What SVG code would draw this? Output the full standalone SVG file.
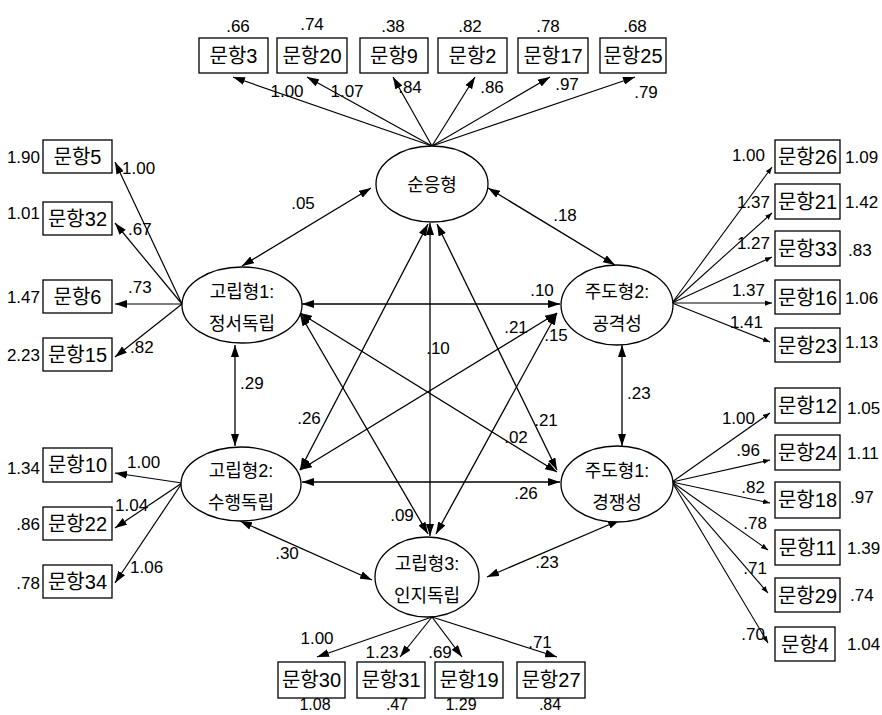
<svg xmlns="http://www.w3.org/2000/svg" width="882" height="715" viewBox="0 0 882 715">
<defs>
<marker id="ah" viewBox="0 0 12 8" refX="12" refY="4" markerWidth="12" markerHeight="8" markerUnits="userSpaceOnUse" orient="auto-start-reverse"><path d="M0,0 L12,4 L0,8 z" fill="#000"/></marker>
<marker id="as" viewBox="0 0 8 6" refX="8" refY="3" markerWidth="7" markerHeight="6" markerUnits="userSpaceOnUse" orient="auto"><path d="M0,0 L8,3 L0,6 z" fill="#000"/></marker>
</defs>
<style>
.bx{fill:#fff;stroke:#000;stroke-width:1.3}
.el{fill:#fff;stroke:#000;stroke-width:1.3}
.bt{font-family:"Liberation Sans","Noto Sans CJK KR",sans-serif;font-size:20px;text-anchor:middle}
.et{font-family:"Liberation Sans","Noto Sans CJK KR",sans-serif;font-size:18px;text-anchor:middle}
.n{font-family:"Liberation Sans Narrow","Liberation Sans",sans-serif;font-size:17px}
.b{font-size:16px}
.m{text-anchor:middle}.e{text-anchor:end}
.ln{stroke:#000;stroke-width:1.2;fill:none;marker-end:url(#ah)}
.ls{stroke:#000;stroke-width:1.1;fill:none;marker-end:url(#as)}
.cv{stroke:#000;stroke-width:1.3;fill:none;marker-start:url(#ah);marker-end:url(#ah)}
</style>
<rect width="882" height="715" fill="#fff"/>
<g id="connectors">
<line class="ln" x1="432" y1="146" x2="233" y2="77"/>
<line class="ln" x1="432" y1="146" x2="307" y2="77"/>
<line class="ln" x1="432" y1="146" x2="393" y2="77"/>
<line class="ln" x1="432" y1="146" x2="475" y2="77"/>
<line class="ln" x1="432" y1="146" x2="550" y2="77"/>
<line class="ln" x1="432" y1="146" x2="635" y2="77"/>
<line class="ln" x1="182" y1="304" x2="115" y2="162"/>
<line class="ln" x1="182" y1="304" x2="115" y2="223"/>
<line class="ln" x1="182" y1="304" x2="115" y2="304"/>
<line class="ln" x1="182" y1="304" x2="115" y2="357"/>
<line class="ln" x1="182" y1="483" x2="115" y2="473"/>
<line class="ln" x1="182" y1="483" x2="115" y2="528"/>
<line class="ln" x1="182" y1="483" x2="115" y2="583"/>
<line class="ls" x1="672" y1="303" x2="772" y2="167"/>
<line class="ls" x1="672" y1="303" x2="772" y2="213"/>
<line class="ls" x1="672" y1="303" x2="772" y2="257"/>
<line class="ls" x1="672" y1="303" x2="772" y2="303"/>
<line class="ls" x1="672" y1="303" x2="770" y2="342"/>
<line class="ls" x1="672" y1="482" x2="770" y2="413"/>
<line class="ls" x1="672" y1="482" x2="770" y2="460"/>
<line class="ls" x1="672" y1="482" x2="770" y2="503"/>
<line class="ls" x1="672" y1="482" x2="768" y2="550"/>
<line class="ls" x1="672" y1="482" x2="768" y2="593"/>
<line class="ls" x1="672" y1="482" x2="768" y2="643"/>
<line class="ln" x1="432" y1="617" x2="317" y2="657"/>
<line class="ln" x1="432" y1="617" x2="400" y2="657"/>
<line class="ln" x1="432" y1="617" x2="462" y2="657"/>
<line class="ln" x1="432" y1="617" x2="557" y2="657"/>
<line class="cv" x1="242" y1="266" x2="371" y2="188"/>
<line class="cv" x1="488" y1="188" x2="615" y2="265"/>
<line class="cv" x1="430" y1="223" x2="430" y2="536"/>
<line class="cv" x1="428" y1="224" x2="300" y2="470"/>
<line class="cv" x1="437" y1="224" x2="557" y2="470"/>
<line class="cv" x1="302" y1="304" x2="560" y2="304"/>
<line class="cv" x1="235" y1="345" x2="235" y2="446"/>
<line class="cv" x1="300" y1="314" x2="428" y2="534"/>
<line class="cv" x1="300" y1="313" x2="557" y2="472"/>
<line class="cv" x1="557" y1="313" x2="300" y2="470"/>
<line class="cv" x1="557" y1="313" x2="436" y2="534"/>
<line class="cv" x1="622" y1="345" x2="622" y2="446"/>
<line class="cv" x1="302" y1="482" x2="560" y2="482"/>
<line class="cv" x1="240" y1="521" x2="372" y2="580"/>
<line class="cv" x1="620" y1="520" x2="487" y2="577"/>
</g>
<g id="labels" class="n">
<text class="m" x="287" y="97">1.00</text>
<text class="m" x="347" y="97">1.07</text>
<text class="m" x="410" y="93">.84</text>
<text class="m" x="492" y="93">.86</text>
<text class="m" x="567" y="90">.97</text>
<text class="m" x="646" y="98">.79</text>
<text class="m" x="238" y="32">.66</text>
<text class="m" x="312" y="30">.74</text>
<text class="m" x="393" y="32">.38</text>
<text class="m" x="470" y="32">.82</text>
<text class="m" x="548" y="32">.78</text>
<text class="m" x="635" y="32">.68</text>
<text class="e" x="40" y="163">1.90</text>
<text class="e" x="40" y="219">1.01</text>
<text class="e" x="40" y="303">1.47</text>
<text class="e" x="40" y="361">2.23</text>
<text class="e" x="40" y="474">1.34</text>
<text class="e" x="40" y="530">.86</text>
<text class="e" x="40" y="589">.78</text>
<text x="122" y="174">1.00</text>
<text x="128" y="235">.67</text>
<text x="128" y="293">.73</text>
<text x="130" y="353">.82</text>
<text x="127" y="468">1.00</text>
<text x="115" y="511">1.04</text>
<text x="130" y="573">1.06</text>
<text x="845" y="163">1.09</text>
<text x="845" y="208">1.42</text>
<text x="848" y="256">.83</text>
<text x="845" y="304">1.06</text>
<text x="845" y="348">1.13</text>
<text class="e" x="765" y="161">1.00</text>
<text class="e" x="770" y="208">1.37</text>
<text class="e" x="770" y="249">1.27</text>
<text class="e" x="765" y="296">1.37</text>
<text class="e" x="763" y="328">1.41</text>
<text x="847" y="414">1.05</text>
<text x="847" y="459">1.11</text>
<text x="850" y="503">.97</text>
<text x="847" y="554">1.39</text>
<text x="850" y="601">.74</text>
<text x="847" y="650">1.04</text>
<text class="e" x="755" y="424">1.00</text>
<text class="e" x="760" y="456">.96</text>
<text class="e" x="765" y="493">.82</text>
<text class="e" x="767" y="529">.78</text>
<text class="e" x="767" y="574">.71</text>
<text class="e" x="765" y="640">.70</text>
<text class="m" x="317" y="644">1.00</text>
<text class="m" x="382" y="658">1.23</text>
<text class="m" x="440" y="658">.69</text>
<text class="m" x="540" y="648">.71</text>
<text class="m b" x="315" y="710">1.08</text>
<text class="m b" x="397" y="710">.47</text>
<text class="m b" x="461" y="710">1.29</text>
<text class="m b" x="550" y="710">.84</text>
<text class="m" x="303" y="209">.05</text>
<text class="m" x="565" y="221">.18</text>
<text class="m" x="438" y="354">.10</text>
<text class="m" x="309" y="424">.26</text>
<text class="m" x="546" y="426">.21</text>
<text class="m" x="542" y="296">.10</text>
<text x="240" y="389">.29</text>
<text class="m" x="402" y="521">.09</text>
<text class="m" x="516" y="443">.02</text>
<text class="m" x="516" y="333">.21</text>
<text class="m" x="556" y="341">.15</text>
<text x="627" y="399">.23</text>
<text class="m" x="526" y="499">.26</text>
<text class="m" x="287" y="559">.30</text>
<text class="m" x="547" y="568">.23</text>
</g>
<g id="f_suneung"><ellipse class="el" cx="432" cy="184" rx="56" ry="38"/><text class="et" x="432" y="191">순응형</text></g>
<g id="f_isol1"><ellipse class="el" cx="242" cy="305" rx="60" ry="38"/><text class="et" x="242" y="298">고립형1:</text><text class="et" x="242" y="330">정서독립</text></g>
<g id="f_lead2"><ellipse class="el" cx="617" cy="305" rx="56" ry="40"/><text class="et" x="617" y="298">주도형2:</text><text class="et" x="617" y="330">공격성</text></g>
<g id="f_isol2"><ellipse class="el" cx="241" cy="484" rx="60" ry="37"/><text class="et" x="241" y="477">고립형2:</text><text class="et" x="241" y="509">수행독립</text></g>
<g id="f_lead1"><ellipse class="el" cx="617" cy="484" rx="56" ry="38"/><text class="et" x="617" y="477">주도형1:</text><text class="et" x="617" y="509">경쟁성</text></g>
<g id="f_isol3"><ellipse class="el" cx="427" cy="577" rx="52" ry="40"/><text class="et" x="427" y="570">고립형3:</text><text class="et" x="427" y="602">인지독립</text></g>
<g id="q3"><rect class="bx" x="199" y="38" width="69" height="35"/><text class="bt" x="233.5" y="63">문항3</text></g>
<g id="q20"><rect class="bx" x="277" y="38" width="70" height="35"/><text class="bt" x="312" y="63">문항20</text></g>
<g id="q9"><rect class="bx" x="360" y="38" width="68" height="35"/><text class="bt" x="394" y="63">문항9</text></g>
<g id="q2"><rect class="bx" x="438" y="38" width="69" height="35"/><text class="bt" x="472.5" y="63">문항2</text></g>
<g id="q17"><rect class="bx" x="518" y="38" width="70" height="35"/><text class="bt" x="553" y="63">문항17</text></g>
<g id="q25"><rect class="bx" x="600" y="38" width="66" height="35"/><text class="bt" x="633" y="63">문항25</text></g>
<g id="q5"><rect class="bx" x="43" y="140" width="69" height="33"/><text class="bt" x="77.5" y="164">문항5</text></g>
<g id="q32"><rect class="bx" x="43" y="202" width="69" height="33"/><text class="bt" x="77.5" y="226">문항32</text></g>
<g id="q6"><rect class="bx" x="43" y="280" width="69" height="33"/><text class="bt" x="77.5" y="304">문항6</text></g>
<g id="q15"><rect class="bx" x="43" y="338" width="69" height="33"/><text class="bt" x="77.5" y="362">문항15</text></g>
<g id="q10"><rect class="bx" x="43" y="448" width="69" height="34"/><text class="bt" x="77.5" y="472">문항10</text></g>
<g id="q22"><rect class="bx" x="43" y="507" width="69" height="33"/><text class="bt" x="77.5" y="531">문항22</text></g>
<g id="q34"><rect class="bx" x="43" y="565" width="69" height="33"/><text class="bt" x="77.5" y="589">문항34</text></g>
<g id="q26"><rect class="bx" x="775" y="140" width="65" height="33"/><text class="bt" x="807.5" y="164">문항26</text></g>
<g id="q21"><rect class="bx" x="775" y="184" width="65" height="35"/><text class="bt" x="807.5" y="209">문항21</text></g>
<g id="q33"><rect class="bx" x="775" y="231" width="65" height="35"/><text class="bt" x="807.5" y="256">문항33</text></g>
<g id="q16"><rect class="bx" x="775" y="280" width="65" height="34"/><text class="bt" x="807.5" y="305">문항16</text></g>
<g id="q23"><rect class="bx" x="775" y="328" width="65" height="34"/><text class="bt" x="807.5" y="353">문항23</text></g>
<g id="q12"><rect class="bx" x="775" y="388" width="65" height="35"/><text class="bt" x="807.5" y="413">문항12</text></g>
<g id="q24"><rect class="bx" x="775" y="435" width="65" height="35"/><text class="bt" x="807.5" y="460">문항24</text></g>
<g id="q18"><rect class="bx" x="775" y="482" width="65" height="36"/><text class="bt" x="807.5" y="507">문항18</text></g>
<g id="q11"><rect class="bx" x="775" y="530" width="65" height="35"/><text class="bt" x="807.5" y="555">문항11</text></g>
<g id="q29"><rect class="bx" x="775" y="578" width="65" height="34"/><text class="bt" x="807.5" y="603">문항29</text></g>
<g id="q4"><rect class="bx" x="775" y="627" width="60" height="34"/><text class="bt" x="805" y="652">문항4</text></g>
<g id="q30"><rect class="bx" x="278" y="662" width="67" height="36"/><text class="bt" x="311.5" y="687">문항30</text></g>
<g id="q31"><rect class="bx" x="357" y="662" width="68" height="36"/><text class="bt" x="391" y="687">문항31</text></g>
<g id="q19"><rect class="bx" x="435" y="662" width="68" height="36"/><text class="bt" x="469" y="687">문항19</text></g>
<g id="q27"><rect class="bx" x="517" y="662" width="68" height="36"/><text class="bt" x="551" y="687">문항27</text></g>
</svg>
